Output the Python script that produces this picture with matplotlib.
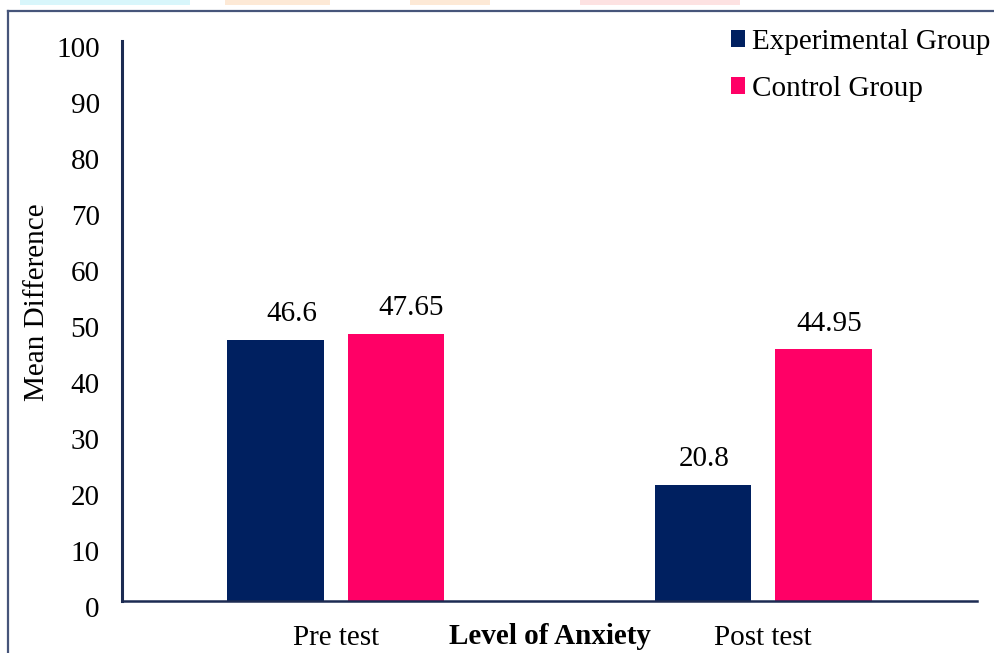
import matplotlib
matplotlib.use("Agg")
import matplotlib.pyplot as plt
import matplotlib.transforms as mtransforms
from matplotlib.patches import Patch, Rectangle
from matplotlib.lines import Line2D
import numpy as np

# data
stages = ["Pre test", "Post test"]
experimental = [46.6, 20.8]
control = [47.65, 44.95]
groups = ["Experimental Group", "Control Group"]
yticks = list(range(0, 101, 10))

navy = "#002060"
pink = "#ff0066"

plt.rcParams["font.family"] = ["Liberation Serif", "DejaVu Serif"]
plt.rcParams["font.size"] = 21

fig = plt.figure(figsize=(9.94, 6.53), dpi=100)
W, H = 994, 653

# axes box in pixels: left 122, right 977, top 41, bottom 601
ax = fig.add_axes([122 / W, 1 - 601 / H, (977 - 122) / W, (601 - 41) / H])

x = np.arange(len(stages))
width = 0.225
off = 0.141
b1 = ax.bar(x - off, experimental, width, color=navy)
b2 = ax.bar(x + off, control, width, color=pink)

# value labels above each bar (pixel nudges)
nudges = [[12, 11], [1, 4]]
for i in range(len(stages)):
    for j, vals in enumerate([experimental, control]):
        ax.annotate(f"{vals[i]:g}", (x[i] + (off if j else -off), vals[i]),
                    xytext=(nudges[i][j], 18.5), textcoords="offset points",
                    ha="center", va="center")

ax.set_xlim(-0.5, 1.5)
ax.set_ylim(0, 100)
ax.set_yticks(yticks)
ax.set_xticks(x)
ax.set_xticklabels(stages)
ax.tick_params(axis="both", length=0)
ax.tick_params(axis="y", pad=16)
ax.tick_params(axis="x", pad=17)

# y tick labels sit a little low
shift = mtransforms.ScaledTranslation(0, -6 / 100, fig.dpi_scale_trans)
for lab in ax.get_yticklabels():
    lab.set_transform(lab.get_transform() + shift)

for s in ["top", "right"]:
    ax.spines[s].set_visible(False)
ax.spines["left"].set_color("#1c2b52")
ax.spines["left"].set_linewidth(2.2)
ax.spines["bottom"].set_color("#1c2b52")
ax.spines["bottom"].set_linewidth(1.8)

fig.text(37 / W, 1 - 302 / H, "Mean Difference", rotation=90,
         ha="center", va="center")
fig.text(550 / W, 1 - 637 / H, "Level of Anxiety", ha="center", va="center",
         fontweight="bold")

handles = [Patch(facecolor=navy), Patch(facecolor=pink)]
fig.legend(handles, groups, loc="upper left",
           bbox_to_anchor=(716 / W, 1 - 14 / H), frameon=False,
           handlelength=0.5, handleheight=0.5, handletextpad=0.25,
           labelspacing=0.72, borderpad=0)

# outer frame
fig.add_artist(Line2D([8 / W, 1], [1 - 11 / H, 1 - 11 / H], color="#46557a", lw=1.6))
fig.add_artist(Line2D([8 / W, 8 / W], [0, 1 - 11 / H], color="#46557a", lw=1.6))

# faint background shapes peeking above the frame
for x0, x1, c in [(20, 190, "#d8f6fb"), (225, 330, "#fde9d6"), (410, 490, "#fde9d6"),
                  (580, 740, "#fde2e2")]:
    fig.add_artist(Rectangle((x0 / W, 1 - 5 / H), (x1 - x0) / W, 5 / H,
                             transform=fig.transFigure, color=c, lw=0))

fig.savefig("out.png", dpi=100)
